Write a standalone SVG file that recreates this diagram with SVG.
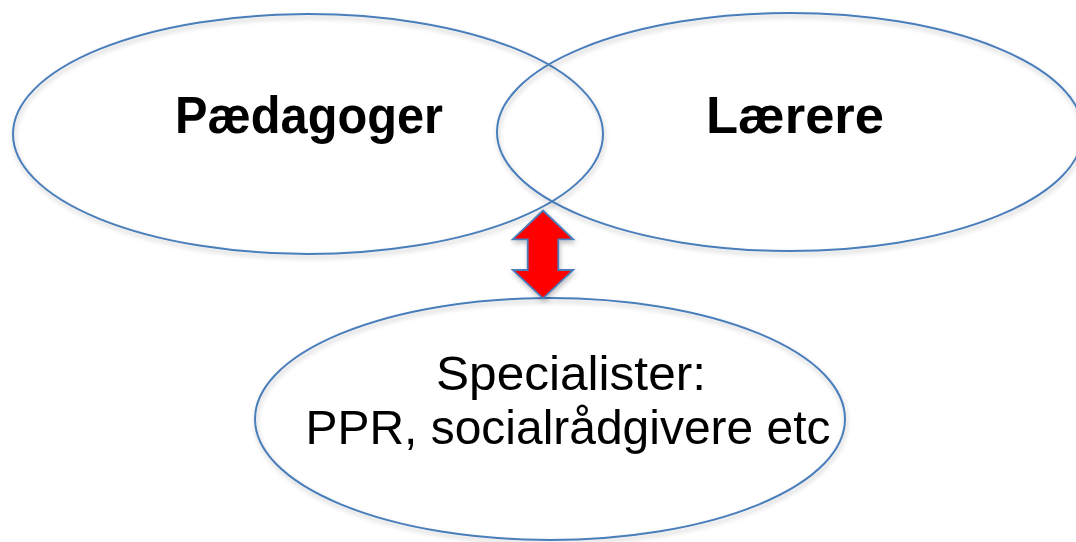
<svg xmlns="http://www.w3.org/2000/svg" width="1076" height="542" viewBox="0 0 1076 542">
  <defs>
    <filter id="shadow" x="-10%" y="-10%" width="120%" height="130%">
      <feGaussianBlur in="SourceAlpha" stdDeviation="2.5"/>
      <feOffset dx="1" dy="3" result="b"/>
      <feComponentTransfer><feFuncA type="linear" slope="0.25"/></feComponentTransfer>
      <feMerge><feMergeNode/><feMergeNode in="SourceGraphic"/></feMerge>
    </filter>
  </defs>
  <style>
    .node { fill: none; stroke: #4A7EBB; stroke-width: 2; }
    .title { font-family: "Liberation Sans", Arial, sans-serif; font-weight: bold; font-size: 52px; fill: #000; }
    .body { font-family: "Liberation Sans", Arial, sans-serif; font-size: 49px; fill: #000; }
    .arrow { fill: #FF0000; stroke: #4A7EBB; stroke-width: 1.8; stroke-linejoin: miter; }
  </style>
  <rect width="1076" height="542" fill="#ffffff"/>
  <g id="paedagoger">
    <ellipse class="node" cx="308" cy="134" rx="295" ry="120" filter="url(#shadow)"/>
    <text class="title" x="175" y="133" textLength="268" lengthAdjust="spacingAndGlyphs">Pædagoger</text>
  </g>
  <g id="laerere">
    <ellipse class="node" cx="790" cy="132" rx="293" ry="119" filter="url(#shadow)"/>
    <text class="title" x="706" y="133" textLength="178" lengthAdjust="spacingAndGlyphs">Lærere</text>
  </g>
  <g id="specialister">
    <ellipse class="node" cx="550" cy="419" rx="295" ry="121" filter="url(#shadow)"/>
    <text class="body" x="571" y="390" text-anchor="middle" textLength="270" lengthAdjust="spacingAndGlyphs">Specialister:</text>
    <text class="body" x="568" y="444" text-anchor="middle" textLength="525" lengthAdjust="spacingAndGlyphs">PPR, socialrådgivere etc</text>
  </g>
  <g id="connectors">
    <path class="arrow" filter="url(#shadow)" d="M543,210.5 L573.3,239.3 L558.3,239.3 L558.3,270 L573.3,270 L543,298.3 L512.7,270 L527.7,270 L527.7,239.3 L512.7,239.3 Z"/>
  </g>
</svg>
